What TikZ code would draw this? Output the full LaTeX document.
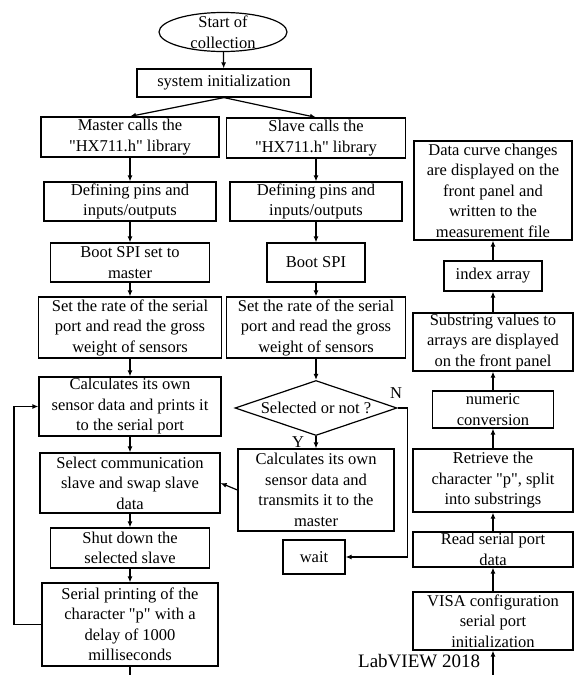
\documentclass[tikz,border=0pt]{standalone}
\usepackage{fontspec}
\setmainfont{Liberation Serif}[Ligatures=TeXOff]
\usetikzlibrary{positioning, arrows.meta, shapes.geometric}

\begin{document}
\begin{tikzpicture}[x=1pt, y=-1pt, line width=1.2pt,
    every node/.style={font=\fontsize{16.5}{20.5}\selectfont},
    box/.style={rectangle, draw=black, inner sep=0pt, align=center},
    flow/.style={-{Latex[length=6pt, width=5pt]}}]

\useasboundingbox (0,0) rectangle (574,675);

% start
\node[ellipse, draw=black, inner sep=0pt, minimum width=128, minimum height=39] (start) at (223,32)
    {\smash{\raisebox{-6pt}{\begin{tabular}{@{}c@{}}Start of\\collection\end{tabular}}}};
\node[box, minimum width=174, minimum height=28] (init) at (224,83) {system initialization};

% master side
\node[box, minimum width=178, minimum height=40] (mcall) at (130,137) {Master calls the\\"HX711.h" library};
\node[box, minimum width=172, minimum height=39] (mpins) at (130,201.5) {Defining pins and\\inputs/outputs};
\node[box, minimum width=159, minimum height=39] (mboot) at (130,262.5) {Boot SPI set to\\master};
\node[box, minimum width=183, minimum height=61] (mrate) at (130,327.5) {Set the rate of the serial\\port and read the gross\\weight of sensors};
\node[box, minimum width=182, minimum height=59] (mcalc) at (130,406.5) {Calculates its own\\sensor data and prints it\\to the serial port};
\node[box, minimum width=180, minimum height=60] (select) at (130,483) {Select communication\\slave and swap slave\\data};
\node[box, minimum width=159, minimum height=40] (shut) at (130,548) {Shut down the\\selected slave};
\node[box, minimum width=176, minimum height=83] (serial) at (130,624.5) {Serial printing of the\\character "p" with a\\delay of 1000\\milliseconds};

% slave side
\node[box, minimum width=179, minimum height=40] (scall) at (316,138) {Slave calls the\\"HX711.h" library};
\node[box, minimum width=172, minimum height=39] (spins) at (316,201.5) {Defining pins and\\inputs/outputs};
\node[box, minimum width=98, minimum height=39] (sboot) at (316,262.5) {Boot SPI};
\node[box, minimum width=179, minimum height=61] (srate) at (316,327.5) {Set the rate of the serial\\port and read the gross\\weight of sensors};
\node[diamond, draw=black, aspect=2.95, inner sep=0pt, minimum width=162, minimum height=55] (dec) at (316,408) {Selected or not ?};
\node[box, minimum width=156, minimum height=82] (scalc) at (316,490) {Calculates its own\\sensor data and\\transmits it to the\\master};
\node[box, minimum width=62, minimum height=34] (wait) at (314,557) {wait};

\node (ylabel) at (298,442) {Y};
\node (nlabel) at (396,393) {N};

% LabVIEW side
\node[box, minimum width=158, minimum height=99] (curve) at (493,190.5) {Data curve changes\\are displayed on the\\front panel and\\written to the\\measurement file};
\node[box, minimum width=98, minimum height=30] (index) at (493,276) {index array};
\node[box, minimum width=160, minimum height=58] (substr) at (493,342) {Substring values to\\arrays are displayed\\on the front panel};
\node[box, minimum width=121, minimum height=37] (numeric) at (493,409.5) {numeric\\conversion};
\node[box, minimum width=160, minimum height=63] (retrieve) at (493,480.5) {Retrieve the\\character "p", split\\into substrings};
\node[box, minimum width=160, minimum height=35] (read) at (493,549.5) {Read serial port\\data};
\node[box, minimum width=160, minimum height=58] (visa) at (493,621) {VISA configuration\\serial port\\initialization};
\node[anchor=east, font=\fontsize{19}{22}\selectfont] (lv) at (484,661) {LabVIEW 2018};

\coordinate (mend) at (130,675);
\coordinate (lvin) at (493,675);
\coordinate (loop) at (14,0);

% connectors
\draw[flow] (start) -- (init);
\draw[flow] (init.south) -- (mcall.north);
\draw[flow] (init.south) -- (scall.north);

\draw[flow] (mcall) -- (mpins);
\draw[flow] (mpins) -- (mboot);
\draw[flow] (mboot) -- (mrate);
\draw[flow] (mrate) -- (mcalc);
\draw[flow] (mcalc) -- (select);
\draw[flow] (select) -- (shut);
\draw[flow] (shut) -- (serial);
\draw (serial) -- (mend);
\draw[flow] (serial.west) -| (loop |- mcalc.west) -- (mcalc.west);

\draw[flow] (scall) -- (spins);
\draw[flow] (spins) -- (sboot);
\draw[flow] (sboot) -- (srate);
\draw[flow] (srate) -- (dec);
\draw[flow] (dec) -- (scalc);
\draw[flow] (scalc.west) -- (select.east);
\draw[flow] (dec.east) -- ++(10,0) |- (wait.east);

\draw[flow] (lvin) -- (visa);
\draw[flow] (visa) -- (read);
\draw[flow] (read) -- (retrieve);
\draw[flow] (retrieve) -- (numeric);
\draw[flow] (numeric) -- (substr);
\draw[flow] (substr) -- (index);
\draw[flow] (index) -- (curve);

\end{tikzpicture}
\end{document}
